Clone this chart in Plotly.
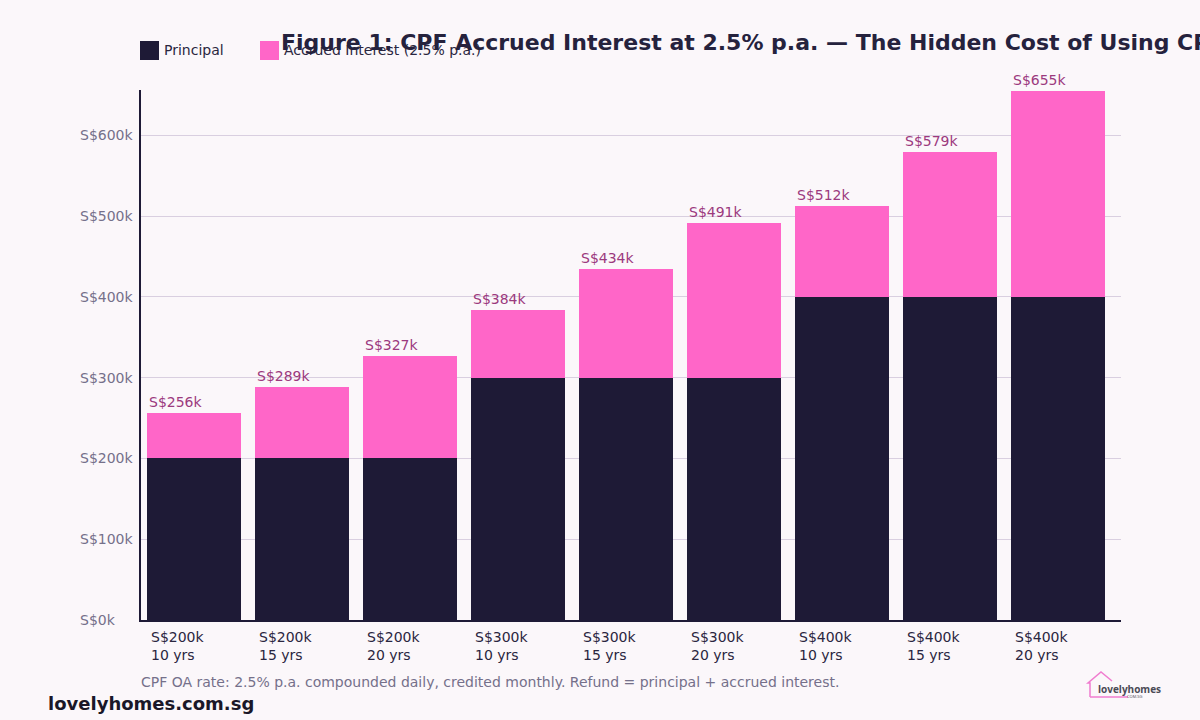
import plotly.graph_objects as go

# data (S$ thousands)
scenarios = ["S$200k<br>10 yrs", "S$200k<br>15 yrs", "S$200k<br>20 yrs",
             "S$300k<br>10 yrs", "S$300k<br>15 yrs", "S$300k<br>20 yrs",
             "S$400k<br>10 yrs", "S$400k<br>15 yrs", "S$400k<br>20 yrs"]
principal = [200, 200, 200, 300, 300, 300, 400, 400, 400]
totals = [256, 289, 327, 384, 434, 491, 512, 579, 655]
interest = [t - p for t, p in zip(totals, principal)]
ytick_vals = [0, 100, 200, 300, 400, 500, 600]

BG = "#fbf7fa"
NAVY = "#1e1a36"
PINK = "#ff66c8"
FONT = "DejaVu Sans"

W, H = 1200, 720
L, R, T, B = 141, 79, 90, 100
pw = W - L - R
ph = H - T - B

def px(xp):
    return (xp - L) / pw

def py(yp):
    return (H - B - yp) / ph

xs = list(range(len(scenarios)))
bw = 0.87

fig = go.Figure()
fig.add_trace(go.Bar(x=xs, y=principal, name="Principal", width=bw,
                     marker=dict(color=NAVY, line=dict(width=0))))
fig.add_trace(go.Bar(x=xs, y=interest, name="Accrued Interest (2.5% p.a.)", width=bw,
                     marker=dict(color=PINK, line=dict(width=0))))

ann = []
for i, t in enumerate(totals):
    ann.append(dict(x=i - bw / 2, y=t, xref="x", yref="y", text=f"S${t}k",
                    showarrow=False, xanchor="left", yanchor="bottom", xshift=0, yshift=1,
                    font=dict(family=FONT, size=14, color="#9b3a7e")))
for i, s in enumerate(scenarios):
    ann.append(dict(x=i - bw / 2, y=py(627), xref="x", yref="paper", text=s,
                    showarrow=False, xanchor="left", yanchor="top", xshift=2, align="left",
                    font=dict(family=FONT, size=14, color="#2a2640")))
for v in ytick_vals:
    ann.append(dict(x=px(78), y=v, xref="paper", yref="y", text=f"S${v}k",
                    showarrow=False, xanchor="left", yanchor="middle",
                    font=dict(family=FONT, size=14, color="#75708a")))

# legend (drawn by hand)
legend_items = [("Principal", NAVY, 140), ("Accrued Interest (2.5% p.a.)", PINK, 260)]
shapes = []
for label, col, x0 in legend_items:
    shapes.append(dict(type="rect", xref="paper", yref="paper",
                       x0=px(x0), x1=px(x0 + 19), y0=py(60), y1=py(41),
                       fillcolor=col, line=dict(width=0)))
    ann.append(dict(x=px(x0 + 22), y=py(50), xref="paper", yref="paper", text=label,
                    showarrow=False, xanchor="left", yanchor="middle",
                    font=dict(family=FONT, size=14, color="#2a2640")))

# title
ann.append(dict(x=px(279), y=py(42), xref="paper", yref="paper",
                text="<b>Figure 1: CPF Accrued Interest at 2.5% p.a. — The Hidden Cost of Using CPF</b>",
                showarrow=False, xanchor="left", yanchor="middle",
                font=dict(family=FONT, size=22, color="#25223d")))

# footer
ann.append(dict(x=px(139), y=py(682), xref="paper", yref="paper",
                text="CPF OA rate: 2.5% p.a. compounded daily, credited monthly. Refund = principal + accrued interest.",
                showarrow=False, xanchor="left", yanchor="middle",
                font=dict(family=FONT, size=14, color="#75708a")))
ann.append(dict(x=px(46), y=py(703), xref="paper", yref="paper",
                text="<b>lovelyhomes.com.sg</b>",
                showarrow=False, xanchor="left", yanchor="middle",
                font=dict(family=FONT, size=18, color="#1a1728")))

# small logo
house = (f"M {px(1090)},{py(697)} L {px(1090)},{py(683)} L {px(1088)},{py(683)} "
         f"L {px(1101)},{py(672)} L {px(1112)},{py(681)}")
shapes.append(dict(type="path", xref="paper", yref="paper", path=house,
                   line=dict(color="#f07ccf", width=1.5)))
shapes.append(dict(type="line", xref="paper", yref="paper", x0=px(1090), x1=px(1128),
                   y0=py(697), y1=py(697), line=dict(color="#f07ccf", width=1.5)))
ann.append(dict(x=px(1096), y=py(689), xref="paper", yref="paper", text="<b>lovelyhomes</b>",
                showarrow=False, xanchor="left", yanchor="middle",
                font=dict(family="Open Sans", size=10, color="#4a4a55")))
ann.append(dict(x=px(1125), y=py(696), xref="paper", yref="paper", text="COM.SG",
                showarrow=False, xanchor="left", yanchor="middle",
                font=dict(family="Open Sans", size=4, color="#4a4a55")))

fig.update_layout(
    width=W, height=H, barmode="stack", showlegend=False,
    paper_bgcolor=BG, plot_bgcolor=BG,
    margin=dict(l=L, r=R, t=T, b=B, autoexpand=False),
    font=dict(family=FONT),
    xaxis=dict(range=[-0.49, 8.583], showticklabels=False, showgrid=False, zeroline=False,
               showline=True, linecolor=NAVY, linewidth=2, ticks=""),
    yaxis=dict(range=[0, 656], tickvals=ytick_vals, showticklabels=False,
               showgrid=True, gridcolor="#d9cfe0", gridwidth=1, zeroline=False,
               showline=True, linecolor=NAVY, linewidth=2, ticks=""),
    annotations=ann, shapes=shapes,
)

fig.write_html("out.html", config={"displayModeBar": False},
               post_script="document.body.style.margin='0';")
